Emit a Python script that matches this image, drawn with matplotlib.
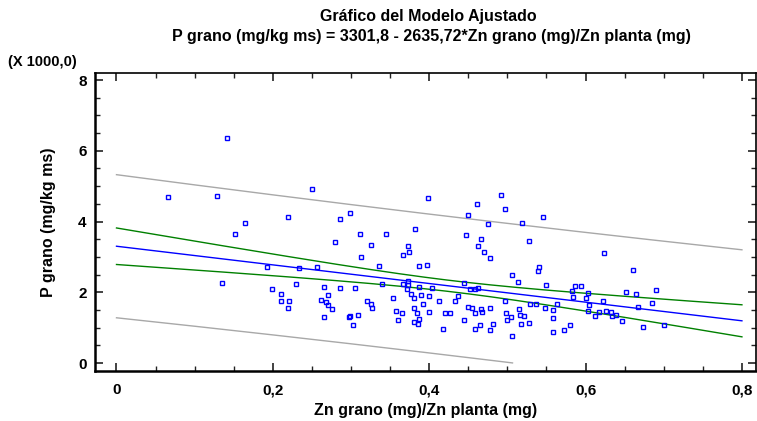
import numpy as np
import matplotlib
matplotlib.use("Agg")
import matplotlib.pyplot as plt
from matplotlib.ticker import MultipleLocator, FuncFormatter

# Zn grano / Zn planta ratio, and P grano in thousands of mg/kg ms
ratio_zn = [
    0.066, 0.129, 0.141, 0.135, 0.151, 0.165, 0.192, 0.199, 0.210, 0.211,
    0.221, 0.220, 0.219, 0.229, 0.233, 0.250, 0.257, 0.261, 0.268, 0.271,
    0.271, 0.276, 0.265, 0.265, 0.279, 0.286, 0.286, 0.299, 0.298, 0.299,
    0.302, 0.305, 0.309, 0.312, 0.313, 0.321, 0.325, 0.327, 0.326, 0.336,
    0.339, 0.345, 0.354, 0.358, 0.360, 0.365, 0.367, 0.373, 0.374, 0.373,
    0.367, 0.373, 0.372, 0.377, 0.380, 0.381, 0.380, 0.386, 0.382, 0.385,
    0.387, 0.387, 0.387, 0.389, 0.392, 0.397, 0.399, 0.400, 0.400, 0.404,
    0.412, 0.417, 0.420, 0.427, 0.433, 0.437, 0.445, 0.445, 0.447, 0.449,
    0.450, 0.452, 0.458, 0.455, 0.458, 0.458, 0.461, 0.463, 0.463, 0.465,
    0.466, 0.466, 0.468, 0.470, 0.475, 0.478, 0.478, 0.478, 0.481, 0.492,
    0.497, 0.497, 0.498, 0.500, 0.505, 0.506, 0.506, 0.514, 0.515, 0.516,
    0.521, 0.518, 0.527, 0.519, 0.528, 0.529, 0.537, 0.539, 0.541, 0.546,
    0.548, 0.550, 0.558, 0.558, 0.558, 0.564, 0.573, 0.580, 0.583, 0.584,
    0.587, 0.594, 0.601, 0.603, 0.603, 0.604, 0.612, 0.617, 0.622, 0.624,
    0.626, 0.633, 0.634, 0.639, 0.647, 0.652, 0.661, 0.665, 0.667, 0.673,
    0.685, 0.690, 0.700,
]
p_grano = [
    4.69, 4.72, 6.36, 2.26, 3.64, 3.95, 2.71, 2.09, 1.95, 1.75,
    1.75, 1.55, 4.12, 2.23, 2.68, 4.92, 2.71, 1.78, 1.72, 1.92,
    1.64, 1.53, 2.15, 1.30, 3.42, 4.07, 2.12, 4.24, 1.30, 1.33,
    1.07, 2.12, 1.36, 3.64, 2.99, 1.75, 1.67, 1.55, 3.33, 2.74,
    2.23, 3.64, 1.84, 1.47, 1.21, 1.41, 3.05, 3.31, 3.14, 2.32,
    2.23, 2.20, 2.09, 1.95, 1.84, 1.55, 1.16, 1.10, 3.79, 1.41,
    2.74, 2.15, 1.24, 1.92, 1.67, 2.77, 4.66, 1.89, 1.44, 2.12,
    1.75, 0.96, 1.41, 1.41, 1.75, 1.89, 2.26, 1.21, 3.62, 4.18,
    1.58, 2.09, 2.09, 1.55, 1.41, 0.96, 4.49, 3.31, 2.12, 1.07,
    3.50, 1.53, 1.44, 3.14, 3.93, 2.97, 1.55, 0.93, 1.10, 4.75,
    4.35, 1.75, 1.41, 1.21, 1.30, 2.49, 0.76, 2.29, 1.53, 1.36,
    1.33, 1.10, 1.13, 3.95, 3.45, 1.67, 1.67, 2.60, 2.71, 4.12,
    1.55, 2.20, 1.50, 1.27, 0.88, 1.67, 0.93, 1.07, 2.03, 1.86,
    2.18, 2.18, 1.84, 1.98, 1.47, 1.64, 1.33, 1.44, 1.75, 3.11,
    1.47, 1.44, 1.33, 1.36, 1.19, 2.01, 2.63, 1.95, 1.58, 1.02,
    1.69, 2.06, 1.07,
]

# fitted model from the title
INTERCEPT = 3301.8
SLOPE = -2635.72
T_95 = 1.976

plt.rcParams["font.family"] = ["Liberation Sans", "DejaVu Sans"]
plt.rcParams["font.weight"] = "bold"

x = np.asarray(ratio_zn)
y = np.asarray(p_grano)
n = len(x)

def fit(v):
    return (INTERCEPT + SLOPE * v) / 1000.0

resid = y - fit(x)
s = np.sqrt(np.sum(resid ** 2) / (n - 2))
xbar = x.mean()
sxx = np.sum((x - xbar) ** 2)

xg = np.linspace(0, 0.8, 200)
yg = fit(xg)
conf = T_95 * s * np.sqrt(1.0 / n + (xg - xbar) ** 2 / sxx)
pred = T_95 * s * np.sqrt(1.0 + 1.0 / n + (xg - xbar) ** 2 / sxx)
pred_low = yg - pred
pred_low = np.where(pred_low >= 0, pred_low, np.nan)

fig = plt.figure(figsize=(7.57, 4.21), dpi=100)
ax = fig.add_axes([95 / 757, 50 / 421, 661 / 757, 298 / 421])

ax.plot(xg, yg + pred, color="#a8a8a8", lw=1)
ax.plot(xg, pred_low, color="#a8a8a8", lw=1)
ax.plot(xg, yg + conf, color="#008000", lw=1)
ax.plot(xg, yg - conf, color="#008000", lw=1)
ax.plot(xg, yg, color="#0000ff", lw=1)
ax.plot(x, y, linestyle="none", marker="s", markersize=3.5,
        markerfacecolor="none", markeredgecolor="#0000ff", markeredgewidth=1.0)

ax.set_xlim(-0.0275, 0.818)
ax.set_ylim(-0.226, 8.2)

comma = FuncFormatter(lambda v, p: f"{v:g}".replace(".", ","))
ax.xaxis.set_major_locator(MultipleLocator(0.2))
ax.xaxis.set_minor_locator(MultipleLocator(0.05))
ax.yaxis.set_major_locator(MultipleLocator(2))
ax.yaxis.set_minor_locator(MultipleLocator(0.5))
ax.xaxis.set_major_formatter(comma)
ax.yaxis.set_major_formatter(comma)
ax.tick_params(which="both", direction="in", top=True, right=True,
               labelsize=11, color="#222222")
ax.tick_params(which="major", length=6, width=1.2)
ax.tick_params(axis="x", which="major", pad=9)
ax.tick_params(axis="y", which="major", pad=6)
ax.tick_params(which="minor", length=3.5, width=1)
for side in ["left", "bottom"]:
    ax.spines[side].set_linewidth(1.8)
for side in ["top", "right"]:
    ax.spines[side].set_linewidth(1.2)

ax.set_xlabel("Zn grano (mg)/Zn planta (mg)", fontsize=11.5, fontweight="bold", labelpad=4)
ax.set_ylabel("P grano (mg/kg ms)", fontsize=11.5, fontweight="bold", labelpad=16)

fig.text(428 / 757, 1 - 16 / 421, "Gráfico del Modelo Ajustado",
         ha="center", va="center", fontsize=11.5, fontweight="bold")
fig.text(431 / 757, 1 - 37 / 421,
         "P grano (mg/kg ms) = 3301,8 - 2635,72*Zn grano (mg)/Zn planta (mg)",
         ha="center", va="center", fontsize=11.5, fontweight="bold")
fig.text(8 / 757, 1 - 62 / 421, "(X 1000,0)", ha="left", va="center",
         fontsize=10.5, fontweight="bold")

fig.savefig("out.png", dpi=100)
